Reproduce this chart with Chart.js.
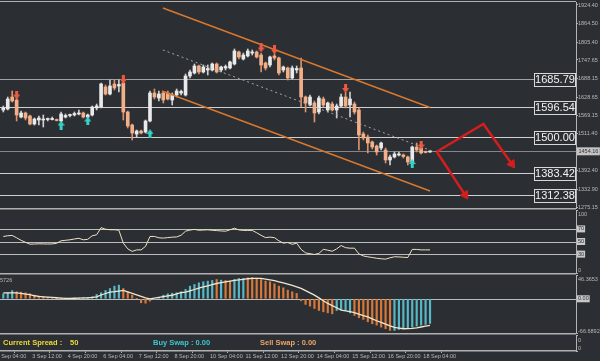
<!DOCTYPE html>
<html>
<head>
<meta charset="utf-8">
<script src="https://cdn.jsdelivr.net/npm/chart.js@4/dist/chart.umd.min.js"></script>
<style>
html,body{margin:0;padding:0;background:#2b2e33;overflow:hidden}
#wrap{position:relative;width:600px;height:361px;background:#2b2e33}
canvas{position:absolute;left:0;top:0;width:600px;height:361px}
</style>
</head>
<body>
<div id="wrap">
<canvas id="cMain" width="600" height="361"></canvas>
<canvas id="cRsi" width="600" height="361"></canvas>
<canvas id="cMacd" width="600" height="361"></canvas>
<canvas id="cInfo" width="600" height="361"></canvas>
</div>
<script>
// ================= DATA =================
const timeLabels = ["1 Sep 04:00","3 Sep 12:00","4 Sep 20:00","6 Sep 04:00","7 Sep 12:00","8 Sep 20:00",
  "10 Sep 04:00","11 Sep 12:00","12 Sep 20:00","14 Sep 04:00","15 Sep 12:00","16 Sep 20:00","18 Sep 04:00"];

const opens = [
1587.0,1590.2,1628.7,1619.1,1564.4,1577.3,1567.7,1541.9,1554.8,1554.8,
1556.4,1556.4,1554.8,1551.6,1564.4,1569.3,1570.9,1574.1,1577.3,1564.4,
1570.9,1593.4,1596.6,1660.9,1638.3,1670.5,1664.1,1673.7,1580.5,1538.7,
1509.8,1519.4,1516.2,1551.6,1641.6,1625.5,1641.6,1641.6,1619.1,1635.1,
1641.6,1635.1,1696.2,1705.8,1728.4,1709.1,1715.5,1715.5,1734.8,1715.5,
1721.9,1721.9,1734.8,1773.4,1750.8,1760.5,1770.1,1773.4,1763.7,1738.0,
1731.6,1760.5,1754.1,1715.5,1721.9,1689.8,1715.5,1721.9,1628.7,1603.0,
1609.4,1580.5,1622.3,1587.0,1606.2,1587.0,1599.8,1628.7,1603.0,1606.2,
1587.0,1509.8,1500.2,1484.1,1471.2,1464.8,1458.4,1426.3,1435.9,1442.3,
1442.3,1435.9,1419.8,1468.0,1464.8,1453.6,1452.0];
const highs = [
1599.8,1628.7,1648.0,1628.7,1583.7,1580.5,1570.9,1561.2,1567.7,1570.9,
1561.2,1564.4,1558.0,1580.5,1574.1,1574.1,1580.5,1587.0,1580.5,1574.1,
1599.8,1606.2,1673.7,1667.3,1683.4,1683.4,1683.4,1677.0,1583.7,1541.9,
1522.7,1522.7,1554.8,1648.0,1654.4,1648.0,1644.8,1648.0,1641.6,1654.4,
1651.2,1702.6,1715.5,1734.8,1731.6,1731.6,1731.6,1738.0,1738.0,1728.4,
1731.6,1744.4,1783.0,1776.6,1770.1,1783.0,1779.8,1776.6,1770.1,1741.2,
1760.5,1766.9,1757.3,1728.4,1725.1,1728.4,1728.4,1754.1,1631.9,1635.1,
1615.9,1631.9,1628.7,1612.6,1612.6,1606.2,1638.3,1644.8,1644.8,1612.6,
1593.4,1516.2,1506.6,1487.3,1474.4,1484.1,1464.8,1442.3,1452.0,1452.0,
1445.6,1439.1,1471.2,1480.9,1471.2,1455.2,1455.2];
const lows = [
1580.5,1587.0,1612.6,1551.6,1561.2,1554.8,1538.7,1538.7,1538.7,1532.3,
1551.6,1554.8,1551.6,1548.4,1561.2,1564.4,1567.7,1570.9,1561.2,1558.0,
1567.7,1587.0,1593.4,1635.1,1635.1,1651.2,1644.8,1554.8,1529.1,1490.5,
1500.2,1509.8,1513.0,1548.4,1622.3,1615.9,1609.4,1619.1,1603.0,1628.7,
1635.1,1631.9,1689.8,1702.6,1702.6,1705.8,1699.4,1712.3,1705.8,1709.1,
1715.5,1718.7,1731.6,1750.8,1747.6,1757.3,1763.7,1754.1,1709.1,1715.5,
1725.1,1747.6,1699.4,1709.1,1683.4,1686.6,1705.8,1596.6,1580.5,1599.8,
1548.4,1574.1,1596.6,1580.5,1583.7,1561.2,1596.6,1593.4,1564.4,1574.1,
1458.4,1490.5,1448.8,1461.6,1442.3,1458.4,1416.6,1410.2,1432.7,1439.1,
1432.7,1410.2,1413.4,1452.0,1445.6,1448.8,1450.4];
const closes = [
1593.4,1622.3,1615.9,1570.9,1577.3,1561.2,1541.9,1558.0,1561.2,1558.0,
1558.0,1559.6,1553.2,1574.1,1569.3,1570.9,1575.7,1577.3,1564.4,1570.9,
1596.6,1599.8,1670.5,1638.3,1664.1,1657.6,1668.9,1580.5,1535.5,1513.0,
1519.4,1513.0,1551.6,1641.6,1628.7,1638.3,1619.1,1622.3,1635.1,1648.0,
1646.4,1696.2,1709.1,1728.4,1709.1,1725.1,1720.3,1734.8,1709.1,1725.1,
1726.7,1741.2,1776.6,1757.3,1763.7,1776.6,1771.7,1757.3,1731.6,1721.9,
1757.3,1754.1,1705.8,1725.1,1689.8,1721.9,1720.3,1628.7,1609.4,1628.7,
1577.3,1625.5,1603.0,1609.4,1587.0,1599.8,1628.7,1599.8,1622.3,1580.5,
1506.6,1497.0,1480.9,1468.0,1452.0,1480.9,1426.3,1435.9,1445.6,1445.6,
1437.5,1419.8,1468.0,1458.4,1448.8,1450.4,1454.2];

const priceTicks = [1924.40,1864.50,1805.40,1747.65,1688.15,1628.65,1569.15,1511.40,1392.40,1332.90,1275.15];
const levels = [1685.79, 1596.54, 1500.00, 1383.42, 1312.38];
const currentPrice = 1454.16;

const sellSignals = [{x:3,y:1635.1},{x:27,y:1685.0},{x:58,y:1786.2},{x:61,y:1779.8},{x:77,y:1656.0},{x:94,y:1474.4}];
const buySignals  = [{x:13,y:1538.7},{x:19,y:1551.6},{x:33,y:1511.4},{x:92,y:1415.0}];

const channelUpper = [{x:35.9,y:1914.7},{x:96.0,y:1595.0}];
const channelMid   = [{x:35.9,y:1779.8},{x:96.5,y:1455.2}];
const channelLower = [{x:35.7,y:1648.0},{x:96.0,y:1326.6}];
const forecastUp   = [{x:97.5,y:1452.9},{x:108.0,y:1541.9},{x:114.4,y:1413.4}];
const forecastDown = [{x:97.5,y:1452.9},{x:103.9,y:1314.1}];

const rsi = [
58,59.1,59.6,55.9,51.9,48.7,45.8,46,46.3,46.2,
46,46.2,47.1,51.1,51.9,52.7,54,55.1,52.7,53.5,
59.1,60.7,71.9,69.5,68.7,68.7,67.9,47.4,38.3,34.3,
36.7,36.7,42.3,58,58,55.9,55.4,56.2,56.9,57.2,
59.9,66.3,68.2,69.2,67.9,68.2,68.6,67.8,67.3,66.8,
66.3,68.6,71.1,68.4,67.6,67.6,67.6,63.9,59.8,56.2,
57,56.1,51.1,47.4,48.4,45.5,47.4,37.5,31.9,30.6,
29.4,31.1,37.5,36.2,34.5,38.3,43.6,40.2,39.4,39.4,
30.3,27.1,25.7,24.6,23.4,22.6,22,24.1,25.8,25.5,
25,24.6,37.5,37.4,36.7,36.7,36.7];
const rsiLevels = [70, 50, 30];

const macdHist = [
9.7,11.7,16,13.6,12.9,11.7,9.7,7.1,5.2,3.9,
3.2,2.6,1.9,1.5,1.2,1.0,1.3,1.6,1.9,2.6,
3.9,8.4,11.7,16.2,20,24.6,26.6,20,13.6,7.1,
0.5,-7.8,-8.5,-4.5,-1.5,3,7,9.7,11,11.7,
13.6,18.2,24.6,27.9,31.1,33.1,34.4,35.7,37.6,36.3,
35.7,34.4,37.6,39.6,39.6,40.9,41.5,40.2,37.6,34.4,
33,29.2,24.6,21.4,16.9,13.6,10.4,-4,-11,-14.3,
-18.8,-22.8,-25.4,-27.4,-29.3,-22.8,-20.9,-22.8,-27.4,-32.6,
-37,-40.3,-44.8,-48.7,-51.3,-55.2,-58.4,-61.7,-61.7,-59.7,
-57.8,-56.4,-55.2,-53.3,-51.3,-50,-48];
const macdRising = [
1,1,1,0,0,0,0,0,0,0,
0,0,0,0,0,0,1,1,1,1,
1,1,1,1,1,1,1,0,0,0,
0,0,0,0,1,1,1,1,1,1,
1,1,1,1,1,1,1,1,0,1,
0,0,1,1,1,0,0,0,0,0,
0,0,0,0,0,0,0,0,0,0,
0,0,0,0,0,1,1,1,1,0,
0,0,0,0,0,0,0,0,1,1,
1,1,1,1,1,1,1];
const macdSignal = [
11.7,11.7,11.7,11.7,10.5,9.2,8.0,5.9,4.6,3.9,
3.3,2.6,2.0,1.4,0.7,0.8,1.0,1.3,1.6,1.8,
2.6,3.9,7.4,10.3,13.1,13.8,15.0,16.2,13.4,10.5,
7.6,4.7,1.7,0,1.4,2.8,4.2,5.5,6.9,9.7,
11.9,12.8,15.5,18.1,21.0,23.2,25.4,27.6,29.8,31.4,
32.9,34.5,35.9,37.0,38.0,39.1,39.6,39.6,39.6,38.5,
37.0,35.3,33.1,31.0,28.7,26.1,23.4,20.3,15.9,11.5,
7.1,1.7,-3.7,-9.1,-13.2,-17.4,-22.2,-23.7,-25.2,-27.2,
-30.0,-32.7,-35.3,-39.0,-42.8,-45.9,-49.3,-52.8,-55.6,-57.0,
-58.4,-58.1,-57.8,-56.6,-55.0,-53.5,-51.9];
const macdMax = 46.3653, macdMin = -66.6892;
const spread = 50, buySwap = 0.00, sellSwap = 0.00;

// ================= STYLE / LAYOUT =================
const FONT = '"Liberation Sans", Arial, sans-serif';
const BG = '#2b2e33', GRID = '#b4b4b4', TXT = '#b9b9b9', SEP = '#b0b0b0';
const BULL = '#eaeaea', BEAR = '#f3b088', BULLW = '#cfcfcf', BEARW = '#d9936a';
const ORANGE = '#d8782e', RED = '#d41e1e';
const XMIN = -0.742, XMAX = 128.84, AXIS_W = 24;
Chart.defaults.font.family = FONT;

const N = closes.length;
const idx = Array.from({length:N}, (_, i) => i);
const isBull = i => closes[i] >= opens[i];

function arrowImg(color, down){
  const c = document.createElement('canvas'); c.width = 7; c.height = 9;
  const g = c.getContext('2d'); g.fillStyle = color; g.beginPath();
  if (down){ g.moveTo(2,0); g.lineTo(5,0); g.lineTo(5,4); g.lineTo(7,4); g.lineTo(3.5,9); g.lineTo(0,4); g.lineTo(2,4); }
  else { g.moveTo(3.5,0); g.lineTo(7,5); g.lineTo(5,5); g.lineTo(5,9); g.lineTo(2,9); g.lineTo(2,5); g.lineTo(0,5); }
  g.closePath(); g.fill(); return c;
}
const sellArrow = arrowImg('#ee5a3e', true);
const buyArrow = arrowImg('#36d2c6', false);

function arrowRot(c){
  const ds = c.dataset.data, i = c.dataIndex;
  if (i === 0) return 0;
  const xs = c.chart.scales.x, ys = c.chart.scales.y;
  const dx = xs.getPixelForValue(ds[i].x) - xs.getPixelForValue(ds[i-1].x);
  const dy = ys.getPixelForValue(ds[i].y) - ys.getPixelForValue(ds[i-1].y);
  return Math.atan2(dx, -dy) * 180 / Math.PI;
}

function yAxis(min, max, extra){
  return Object.assign({
    type:'linear', position:'right', min, max,
    afterFit(s){ s.width = AXIS_W; s.paddingTop = 0; s.paddingBottom = 0; },
    grid:{display:true, drawOnChartArea:false, drawTicks:true, tickLength:2, color:GRID, lineWidth:1},
    border:{display:true, color:GRID, width:1},
    ticks:{display:false}
  }, extra || {});
}
function xHidden(){ return {type:'linear', min:XMIN, max:XMAX, offset:false, display:false}; }
function baseOpts(pad){
  return {
    responsive:false, animation:false, devicePixelRatio:1, events:[],
    layout:{padding:pad, autoPadding:false},
    plugins:{legend:{display:false}, tooltip:{enabled:false}, title:{display:false}}
  };
}
function hline(ctx, a, py, color, w){
  ctx.strokeStyle = color; ctx.lineWidth = w || 1;
  ctx.beginPath(); ctx.moveTo(a.left, py); ctx.lineTo(a.right, py); ctx.stroke();
}
function smallText(ctx, t, x, y, boxed){
  ctx.font = '5.5px ' + FONT; ctx.textBaseline = 'middle'; ctx.textAlign = 'left';
  if (boxed){
    const w = ctx.measureText(t).width;
    ctx.fillStyle = '#c8c8c8'; ctx.fillRect(x - 1, y - 3.5, w + 2, 7);
    ctx.fillStyle = '#2b2e33';
  } else ctx.fillStyle = TXT;
  ctx.fillText(t, x, y);
}

// ================= MAIN PRICE PANEL =================
const mainDecor = {
  id:'mainDecor',
  beforeDatasetsDraw(chart){
    const {ctx, chartArea:a, scales:{y}} = chart;
    ctx.save();
    ctx.fillStyle = SEP;
    ctx.fillRect(0, a.top - 1, a.right, 1);
    ctx.fillRect(0, a.bottom, a.right, 1.5);
    levels.forEach((v, k) => hline(ctx, a, Math.round(y.getPixelForValue(v)) + 0.5, k === 0 ? '#a2a2a2' : '#d0d0d0'));
    hline(ctx, a, Math.round(y.getPixelForValue(currentPrice)) + 0.5, '#83878d');
    ctx.restore();
  },
  afterDraw(chart){
    const {ctx, chartArea:a, scales:{y}} = chart;
    ctx.save();
    levels.forEach(v => {
      const py = Math.round(y.getPixelForValue(v));
      const bw = 41, bh = 13, bx = a.right - bw - 1;
      ctx.fillStyle = BG; ctx.fillRect(bx, py - 6, bw, bh);
      ctx.strokeStyle = '#d8d8d8'; ctx.lineWidth = 1; ctx.strokeRect(bx + 0.5, py - 6 + 0.5, bw, bh);
      ctx.fillStyle = '#f2f2f2'; ctx.font = '11px ' + FONT; ctx.textAlign = 'center'; ctx.textBaseline = 'middle';
      ctx.fillText(v.toFixed(2), bx + bw / 2 + 0.5, py + 1);
    });
    const cy = y.getPixelForValue(currentPrice);
    ctx.font = '5.5px ' + FONT;
    const t = currentPrice.toFixed(2), w = ctx.measureText(t).width;
    ctx.fillStyle = '#c4c4c4'; ctx.fillRect(a.right + 1, cy - 4, w + 3, 8);
    ctx.fillStyle = '#30333a'; ctx.textAlign = 'left'; ctx.textBaseline = 'middle';
    ctx.fillText(t, a.right + 2.5, cy);
    ctx.restore();
  }
};

new Chart(document.getElementById('cMain'), {
  type:'bar',
  data:{datasets:[
    {type:'line', data:forecastUp, borderColor:RED, borderWidth:2.5, tension:0, order:1,
      pointStyle:'triangle', pointRadius:c => c.dataIndex === forecastUp.length - 1 ? 5 : 0,
      pointRotation:arrowRot, pointBackgroundColor:RED, pointBorderColor:RED, pointBorderWidth:1},
    {type:'line', data:forecastDown, borderColor:RED, borderWidth:2.5, tension:0, order:1,
      pointStyle:'triangle', pointRadius:c => c.dataIndex === forecastDown.length - 1 ? 5 : 0,
      pointRotation:arrowRot, pointBackgroundColor:RED, pointBorderColor:RED, pointBorderWidth:1},
    {type:'line', data:sellSignals, showLine:false, pointStyle:sellArrow, pointRadius:4, order:2},
    {type:'line', data:buySignals, showLine:false, pointStyle:buyArrow, pointRadius:4, order:2},
    {type:'line', data:channelUpper, borderColor:ORANGE, borderWidth:1.5, pointRadius:0, order:3},
    {type:'line', data:channelLower, borderColor:ORANGE, borderWidth:1.5, pointRadius:0, order:3},
    {type:'line', data:channelMid, borderColor:'#a6a6a6', borderWidth:1, borderDash:[2,3], pointRadius:0, order:4},
    {type:'bar', data:idx.map(i => ({x:i, y:[opens[i], closes[i]]})),
      backgroundColor:idx.map(i => isBull(i) ? BULL : BEAR), barThickness:3, minBarLength:1,
      grouped:false, borderWidth:0, order:8},
    {type:'bar', data:idx.map(i => ({x:i, y:[lows[i], highs[i]]})),
      backgroundColor:idx.map(i => isBull(i) ? BULLW : BEARW), barThickness:1,
      grouped:false, borderWidth:0, order:9}
  ]},
  options:Object.assign(baseOpts({top:2, bottom:153, left:0, right:0}), {
    scales:{
      x:xHidden(),
      y:yAxis(1272.0, 1934.0, {
        afterBuildTicks(s){ s.ticks = priceTicks.map(v => ({value:v})); },
        ticks:{display:true, color:TXT, font:{size:5.5}, padding:0, autoSkip:false, callback:v => v.toFixed(2)}
      })
    }
  }),
  plugins:[mainDecor]
});

// ================= RSI PANEL =================
const rsiDecor = {
  id:'rsiDecor',
  beforeDatasetsDraw(chart){
    const {ctx, chartArea:a, scales:{y}} = chart;
    ctx.save();
    ctx.fillStyle = SEP; ctx.fillRect(0, a.bottom, a.right, 1.5);
    rsiLevels.forEach(v => hline(ctx, a, Math.round(y.getPixelForValue(v)) + 0.5, '#bdbdbd'));
    ctx.restore();
  },
  afterDraw(chart){
    const {ctx, chartArea:a, scales:{y}} = chart;
    ctx.save();
    smallText(ctx, '100', a.right + 2, y.getPixelForValue(100) + 4);
    rsiLevels.forEach(v => smallText(ctx, String(v), a.right + 2, y.getPixelForValue(v), true));
    smallText(ctx, '0', a.right + 2, y.getPixelForValue(0) - 3);
    ctx.restore();
  }
};
new Chart(document.getElementById('cRsi'), {
  type:'line',
  data:{datasets:[{data:idx.map(i => ({x:i, y:rsi[i]})), borderColor:'#efe2c6', borderWidth:1, pointRadius:0, tension:0}]},
  options:Object.assign(baseOpts({top:210, bottom:88, left:0, right:0}), {
    scales:{x:xHidden(), y:yAxis(0, 100, {afterBuildTicks(s){ s.ticks = [100, ...rsiLevels, 0].map(v => ({value:v})); }})}
  }),
  plugins:[rsiDecor]
});

// ================= MACD PANEL =================
const macdDecor = {
  id:'macdDecor',
  beforeDatasetsDraw(chart){
    const {ctx, chartArea:a, scales:{y}} = chart;
    ctx.save();
    ctx.fillStyle = SEP; ctx.fillRect(0, a.bottom, a.right, 1.5);
    hline(ctx, a, Math.round(y.getPixelForValue(0)) + 0.5, '#bdbdbd');
    ctx.restore();
  },
  afterDraw(chart){
    const {ctx, chartArea:a, scales:{y}} = chart;
    ctx.save();
    smallText(ctx, macdMax.toFixed(4), a.right + 2, y.getPixelForValue(macdMax) + 4);
    smallText(ctx, '0.00', a.right + 2, y.getPixelForValue(0), true);
    smallText(ctx, macdMin.toFixed(4), a.right + 2, y.getPixelForValue(macdMin) - 2);
    smallText(ctx, '5726', a.left, a.top + 5);
    ctx.restore();
  }
};
new Chart(document.getElementById('cMacd'), {
  type:'bar',
  data:{datasets:[
    {type:'line', data:idx.map(i => ({x:i, y:macdSignal[i]})), borderColor:'#f2e6cc', borderWidth:1.3, pointRadius:0, tension:0, order:1},
    {type:'bar', data:idx.filter(i => macdRising[i]).map(i => ({x:i, y:macdHist[i]})),
      backgroundColor:'#58b9c6', barThickness:1.5, grouped:false, borderWidth:0, order:2},
    {type:'bar', data:idx.filter(i => !macdRising[i]).map(i => ({x:i, y:macdHist[i]})),
      backgroundColor:'#d8793a', barThickness:1.5, grouped:false, borderWidth:0, order:2}
  ]},
  options:Object.assign(baseOpts({top:275, bottom:28, left:0, right:0}), {
    scales:{x:xHidden(), y:yAxis(macdMin, macdMax, {afterBuildTicks(s){ s.ticks = [macdMax, 0, macdMin].map(v => ({value:v})); }})}
  }),
  plugins:[macdDecor]
});

// ================= INFO PANEL + TIME AXIS =================
const infoDecor = {
  id:'infoDecor',
  afterDraw(chart){
    const {ctx, chartArea:a} = chart;
    ctx.save();
    const ty = (a.top + a.bottom) / 2;
    ctx.font = 'bold 7.5px ' + FONT; ctx.textBaseline = 'middle'; ctx.textAlign = 'left';
    ctx.fillStyle = '#ecd93a';
    ctx.fillText('Current Spread :', a.left + 3, ty);
    ctx.fillText(String(spread), a.left + 70, ty);
    ctx.fillStyle = '#3ec6d0';
    ctx.fillText('Buy Swap : ' + buySwap.toFixed(2), a.left + 153, ty);
    ctx.fillStyle = '#eca46a';
    ctx.fillText('Sell Swap : ' + sellSwap.toFixed(2), a.left + 260, ty);
    smallText(ctx, '0', a.right + 2, a.top + 5);
    smallText(ctx, '0', a.right + 2, a.top + 13);
    ctx.restore();
  }
};
new Chart(document.getElementById('cInfo'), {
  type:'bar',
  data:{datasets:[]},
  options:Object.assign(baseOpts({top:335, bottom:0, left:0, right:0}), {
    scales:{
      x:{type:'linear', min:XMIN, max:XMAX, offset:false, position:'bottom',
        afterBuildTicks(s){ s.ticks = timeLabels.map((_, k) => ({value:8 * k - 1.5})); },
        afterFit(s){ s.height = 10; s.paddingLeft = 0; s.paddingRight = 0; },
        grid:{display:true, drawOnChartArea:false, drawTicks:true, tickLength:2, color:GRID},
        border:{display:true, color:SEP, width:1.5},
        ticks:{display:true, align:'start', autoSkip:false, maxRotation:0, minRotation:0, padding:0,
          color:TXT, font:{size:5.5}, callback:(v, i) => timeLabels[i]}
      },
      y:yAxis(0, 1, {afterBuildTicks(s){ s.ticks = [1, 0].map(v => ({value:v})); }})
    }
  }),
  plugins:[infoDecor]
});
</script>
</body>
</html>
